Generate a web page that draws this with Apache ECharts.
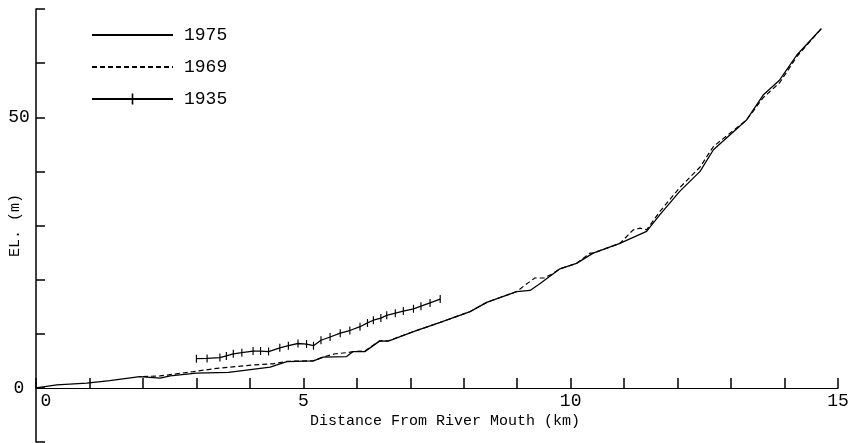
<!DOCTYPE html>
<html><head><meta charset="utf-8">
<script src="https://cdn.jsdelivr.net/npm/echarts@6/dist/echarts.min.js"></script>
<style>html,body{margin:0;padding:0;background:#fff}#c{width:852px;height:443px}</style>
</head><body><div id="c"></div>
<script>
// Series names
const seriesNames = ['1975', '1969', '1935'];
// 1975 profile
const dist1975 = [0, 0.39, 0.95, 1.38, 1.94, 2.32, 2.51, 3.0, 3.6, 4.38, 4.69, 5.19, 5.37, 5.81, 5.93, 6.15, 6.43, 6.59, 7.06, 7.56, 8.12, 8.43, 8.99, 9.24, 9.43, 9.80, 10.11, 10.42, 10.92, 11.17, 11.42, 11.67, 12.04, 12.42, 12.67, 13.29, 13.60, 13.91, 14.23, 14.69];
const elev1975 = [0, 0.55, 0.87, 1.35, 2.09, 1.79, 2.22, 2.71, 2.85, 3.82, 4.86, 4.99, 5.67, 5.78, 6.70, 6.70, 8.68, 8.63, 10.4, 12.1, 14.1, 15.8, 17.8, 18.0, 19.3, 22.0, 23.0, 24.9, 26.7, 27.8, 28.9, 32.0, 36.3, 40.0, 44.0, 49.5, 54.1, 56.9, 61.5, 66.4];
// 1969 profile
const dist1969 = [2.0, 2.32, 2.94, 3.38, 4.06, 4.43, 4.69, 5.19, 5.37, 5.6, 5.81, 5.93, 6.15, 6.43, 6.59, 7.06, 7.56, 8.12, 8.43, 8.99, 9.15, 9.33, 9.5, 9.65, 9.8, 10.11, 10.36, 10.42, 10.92, 11.17, 11.3, 11.42, 11.67, 12.04, 12.42, 12.67, 13.29, 13.6, 13.91, 14.23, 14.69];
const elev1969 = [2.1, 2.2, 3.0, 3.6, 4.25, 4.45, 4.9, 5.0, 5.7, 6.3, 6.5, 6.7, 6.8, 8.7, 8.7, 10.4, 12.1, 14.1, 15.8, 17.8, 19.0, 20.3, 20.3, 21.0, 22.0, 23.0, 24.9, 24.9, 26.7, 29.2, 29.5, 29.2, 32.6, 37.0, 40.8, 44.6, 49.5, 53.6, 56.4, 61.2, 66.4];
// 1935 profile
const dist1935 = [3.0, 3.2, 3.44, 3.56, 3.69, 3.85, 4.06, 4.2, 4.35, 4.56, 4.72, 4.9, 5.06, 5.19, 5.33, 5.5, 5.69, 5.87, 6.06, 6.2, 6.31, 6.45, 6.56, 6.72, 6.87, 7.06, 7.2, 7.37, 7.56];
const elev1935 = [5.4, 5.45, 5.6, 5.9, 6.3, 6.5, 6.8, 6.8, 6.7, 7.4, 7.8, 8.2, 8.1, 7.8, 8.8, 9.4, 10.1, 10.6, 11.3, 12.0, 12.5, 12.9, 13.4, 13.8, 14.2, 14.6, 15.1, 15.7, 16.4];
// Axis labels
const xLabels = [0, 5, 10, 15];
const yLabels = [0, 50];

const zip = (a, b) => a.map((v, i) => [v, b[i]]);
const FONT = '"Liberation Mono", "DejaVu Sans Mono", monospace';
// thin vertical hatch mark inside a square bounding box
const TICK = 'path://M3,0L4,0L4,7L3,7Z M0,0L0.001,0L0,0.001Z M7,7L6.999,7L7,6.999Z';

const GRID_TOP = 9, GRID_BOTTOM = 1, H = 443;
const Y_MIN = -10, Y_MAX = 70;
const plotH = H - GRID_TOP - GRID_BOTTOM;
const zeroOffset = -(plotH * (0 - Y_MIN) / (Y_MAX - Y_MIN));

const chart = echarts.init(document.getElementById('c'), null, {renderer: 'canvas'});
chart.setOption({
  animation: false,
  backgroundColor: '#fff',
  grid: {left: 36, right: 14, top: GRID_TOP, bottom: GRID_BOTTOM, containLabel: false, outerBoundsMode: 'none'},
  legend: {
    orient: 'vertical', left: 86, top: 21, itemWidth: 81, itemHeight: 14, itemGap: 14,
    textStyle: {fontFamily: FONT, fontSize: 18, color: '#000', padding: [0, 0, 0, 6]},
    data: [
      {name: seriesNames[0], itemStyle: {opacity: 0}},
      {name: seriesNames[1], itemStyle: {opacity: 0}},
      {name: seriesNames[2]}
    ]
  },
  xAxis: {
    type: 'value', min: 0, max: 15, interval: 1, offset: zeroOffset,
    name: 'Distance From River Mouth (km)', nameLocation: 'middle', nameGap: 26,
    nameMoveOverlap: false,
    nameTextStyle: {fontFamily: FONT, fontSize: 15, color: '#000', padding: [0, 0, 0, 16]},
    axisLine: {onZero: false, lineStyle: {color: '#000', width: 1.2}},
    axisTick: {inside: true, length: 10, lineStyle: {color: '#000', width: 1.5}},
    axisLabel: {
      fontFamily: FONT, fontSize: 18, color: '#000', margin: 4,
      formatter: v => xLabels.includes(v) ? (v === 0 ? '{z|0}' : String(v)) : '',
      rich: {z: {fontFamily: FONT, fontSize: 18, color: '#000', padding: [0, 0, 0, 20]}}
    },
    splitLine: {show: false}
  },
  yAxis: {
    type: 'value', min: Y_MIN, max: Y_MAX, interval: 10,
    name: 'EL. (m)', nameLocation: 'middle', nameGap: 13, nameRotate: 90,
    nameMoveOverlap: false,
    nameTextStyle: {fontFamily: FONT, fontSize: 15, color: '#000'},
    axisLine: {onZero: false, lineStyle: {color: '#000', width: 1.5}},
    axisTick: {inside: true, length: 9, lineStyle: {color: '#000', width: 1.5}},
    axisLabel: {
      fontFamily: FONT, fontSize: 18, color: '#000', margin: 17, align: 'center',
      formatter: v => yLabels.includes(v) ? String(v) : ''
    },
    splitLine: {show: false}
  },
  series: [
    {name: seriesNames[0], type: 'line', data: zip(dist1975, elev1975), symbol: 'none', silent: true,
     lineStyle: {color: '#000', width: 1.3}, itemStyle: {color: '#000'}},
    {name: seriesNames[1], type: 'line', data: zip(dist1969, elev1969), symbol: 'none', silent: true,
     lineStyle: {color: '#000', width: 1.2, type: [5, 3]}, itemStyle: {color: '#000'}},
    {name: seriesNames[2], type: 'line', data: zip(dist1935, elev1935), symbol: TICK, symbolSize: 8,
     showAllSymbol: true, silent: true,
     lineStyle: {color: '#000', width: 1.3}, itemStyle: {color: '#000', borderWidth: 0}}
  ]
});
</script></body></html>
